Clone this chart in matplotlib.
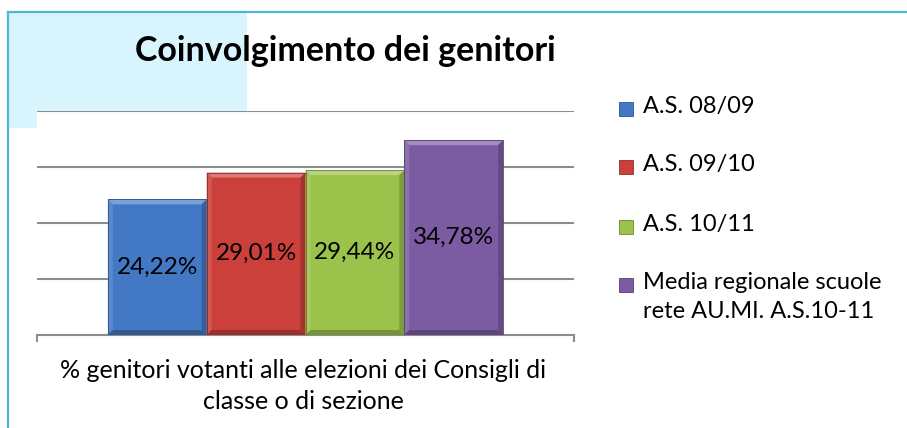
import matplotlib.pyplot as plt
from matplotlib.patches import Rectangle, Polygon
from matplotlib.lines import Line2D
import matplotlib.colors as mcolors
import numpy as np

plt.rcParams['font.family'] = ['Lato', 'DejaVu Sans']

title = "Coinvolgimento dei genitori"
category = "% genitori votanti alle elezioni dei Consigli di\nclasse o di sezione"
series = ["A.S. 08/09", "A.S. 09/10", "A.S. 10/11",
          "Media regionale scuole\nrete AU.MI. A.S.10-11"]
values = [24.22, 29.01, 29.44, 34.78]
labels = ["24,22%", "29,01%", "29,44%", "34,78%"]
colors = ["#4278c4", "#cc403c", "#9bc24a", "#7b5ca3"]


def shade(c, f):
    r, g, b = mcolors.to_rgb(c)
    if f > 0:
        return (r + (1 - r) * f, g + (1 - g) * f, b + (1 - b) * f)
    return (r * (1 + f), g * (1 + f), b * (1 + f))


W, H = 907, 428
fig = plt.figure(figsize=(W / 100, H / 100), dpi=100)

# light cyan title box and frame lines
fig.add_artist(Rectangle((8 / W, 1 - 128 / H), (247 - 8) / W, (128 - 12) / H,
                         transform=fig.transFigure, facecolor="#d8f5fd",
                         edgecolor="none", zorder=-2))
fig.add_artist(Line2D([8 / W, 1], [1 - 12 / H, 1 - 12 / H], transform=fig.transFigure,
                      color="#4db6d2", lw=1.6, zorder=-1))
fig.add_artist(Line2D([8 / W, 8 / W], [0, 1 - 12 / H], transform=fig.transFigure,
                      color="#4db6d2", lw=1.6, zorder=-1))

ax = fig.add_axes([37 / W, 1 - 335 / H, (574 - 37) / W, (335 - 111) / H])
ax.set_facecolor("white")
ax.set_xlim(-0.5, 0.5)
ax.set_ylim(0, 40)
for s in ax.spines.values():
    s.set_visible(False)
ax.set_xticks([])
ax.set_yticks([])
for gy in [10, 20, 30, 40]:
    ax.axhline(gy, color="#8c8c8c", lw=1.5, zorder=0)
ax.plot([-0.5, 0.5], [0, 0], color="#8c8c8c", lw=1.5, clip_on=False, zorder=1)
for ex in [-0.5, 0.5]:
    ax.plot([ex, ex], [0, -1.1], color="#8c8c8c", lw=1.5, clip_on=False, zorder=1)

w = 0.184
xs = [(i - 1.5) * w for i in range(len(values))]
bars = ax.bar(xs, values, width=w, color=colors, edgecolor="none", zorder=2)

# bevel effect derived from bar geometry
bx = 5 / 537
by = 5 * 40 / 224
for b, c in zip(bars, colors):
    x0, y0 = b.get_x(), b.get_y()
    x1, y1 = x0 + b.get_width(), y0 + b.get_height()
    polys = [
        ([(x0, y1), (x1, y1), (x1 - bx, y1 - by), (x0 + bx, y1 - by)], shade(c, 0.3)),
        ([(x0, y0), (x0, y1), (x0 + bx, y1 - by), (x0 + bx, y0 + by)], shade(c, 0.12)),
        ([(x1, y0), (x1, y1), (x1 - bx, y1 - by), (x1 - bx, y0 + by)], shade(c, -0.2)),
        ([(x0, y0), (x1, y0), (x1 - bx, y0 + by), (x0 + bx, y0 + by)], shade(c, -0.25)),
    ]
    for pts, fc in polys:
        ax.add_patch(Polygon(pts, closed=True, facecolor=fc, edgecolor="none", zorder=3))
    ax.add_patch(Rectangle((x0, y0), x1 - x0, y1 - y0, facecolor="none",
                           edgecolor=shade(c, -0.3), lw=0.6, zorder=4))

for x, v, t in zip(xs, values, labels):
    ax.text(x, v / 2, t, ha="center", va="center", fontsize=17.5, color="black", zorder=5)

fig.text(345 / W, 1 - 51 / H, title, ha="center", va="center",
         fontsize=24.5, fontweight="bold")
fig.text(303 / W, 1 - 386 / H, category, ha="center", va="center",
         fontsize=18, linespacing=1.4)

# legend
ly = [109, 167, 227, 285]
for y, s, c in zip(ly, series, colors):
    fig.add_artist(Rectangle((619 / W, 1 - (y + 7) / H), 14 / W, 14 / H,
                             transform=fig.transFigure, facecolor=c,
                             edgecolor=shade(c, -0.3), lw=0.6))
    fig.text(643 / W, 1 - (y - 13) / H, s, ha="left", va="top",
             fontsize=17, linespacing=1.5)

fig.savefig("out.png", dpi=100)
